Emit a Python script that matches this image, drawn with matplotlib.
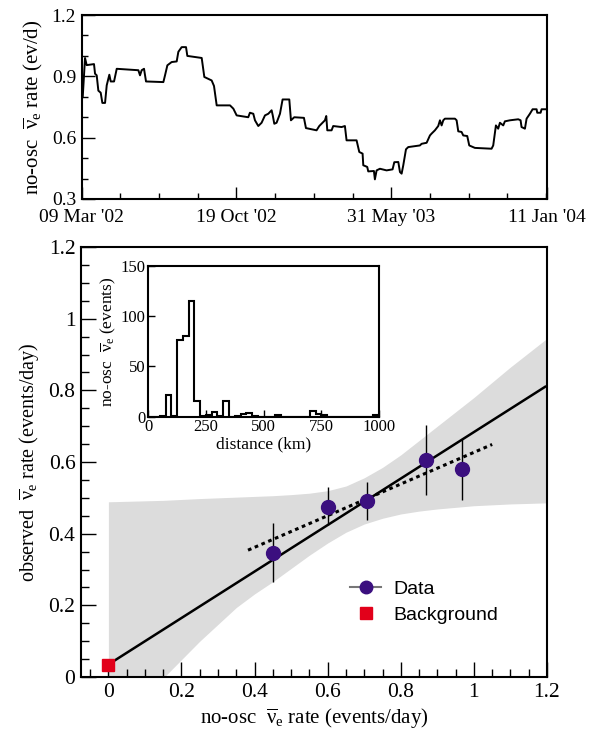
import numpy as np
import matplotlib
matplotlib.use("Agg")
import matplotlib.pyplot as plt
from matplotlib.ticker import MultipleLocator, FixedLocator, FuncFormatter
from matplotlib.lines import Line2D

plt.rcParams['font.family'] = ['Liberation Serif', 'DejaVu Serif']
plt.rcParams['mathtext.fontset'] = 'custom'
plt.rcParams['mathtext.rm'] = 'Liberation Serif'
plt.rcParams['mathtext.it'] = 'Liberation Serif:italic'

# --- top panel: no-osc rate vs time (days since 09 Mar '02) ---
days = [0, 1.5, 4.8, 7.2, 17.8, 19.3, 21.7, 24.1, 27.5, 29.9, 33.8, 36.2, 40, 42, 46.8,
        50.7, 82, 84.4, 86.8, 90.2, 93.1, 118.2, 120.6, 124, 130.2, 137.5, 139.9, 144.7,
        151, 152.9, 173.7, 177.5, 188.1, 191.5, 195.4, 214.7, 219.5, 224.3, 241.1, 243.5,
        248.4, 250.8, 255.6, 260.4, 265.3, 270.1, 274.9, 276.5, 278.8, 282.1, 287, 290.8,
        300.5, 302.9, 307.7, 321.7, 324.6, 340, 343.9, 352.1, 354, 355.5, 361.7, 364.1,
        376.2, 381, 383.4, 397.9, 401.8, 406.6, 407.6, 413.3, 414.8, 423, 424.4, 426.9,
        431.7, 441.3, 450, 452.5, 458.3, 460.7, 463.1, 465.5, 469.4, 472.7, 489.6, 492,
        499.3, 504.1, 506.5, 511.3, 516.1, 518.6, 521, 523.4, 525.8, 540.3, 542.7, 545.1,
        549.9, 552.3, 558.1, 561, 569.2, 593.3, 595.7, 599.6, 602.9, 605.4, 610.2, 612.6,
        619.9, 631.9, 635.3, 636.7, 641.6, 644, 648.8, 652.7, 658.5, 659.4, 664.3, 665.7, 673]
rate = [0.79, 0.80, 0.99, 0.955, 0.96, 0.913, 0.905, 0.83, 0.82, 0.77, 0.77, 0.856, 0.908,
        0.875, 0.875, 0.937, 0.93, 0.905, 0.93, 0.937, 0.875, 0.872, 0.905, 0.954, 0.97,
        0.973, 1.02, 1.043, 1.043, 1.0, 0.99, 0.897, 0.88, 0.853, 0.758, 0.758, 0.742, 0.709,
        0.70, 0.722, 0.717, 0.685, 0.657, 0.673, 0.709, 0.717, 0.734, 0.71, 0.668, 0.673,
        0.717, 0.787, 0.787, 0.685, 0.70, 0.697, 0.647, 0.636, 0.657, 0.685, 0.706, 0.636,
        0.636, 0.657, 0.652, 0.657, 0.587, 0.587, 0.53, 0.522, 0.465, 0.457, 0.435, 0.437,
        0.396, 0.44, 0.448, 0.44, 0.445, 0.48, 0.481, 0.432, 0.424, 0.465, 0.543, 0.554,
        0.562, 0.57, 0.575, 0.611, 0.62, 0.636, 0.657, 0.685, 0.66, 0.685, 0.693, 0.693,
        0.685, 0.631, 0.628, 0.611, 0.608, 0.562, 0.55, 0.546, 0.562, 0.66, 0.644, 0.673,
        0.66, 0.68, 0.685, 0.69, 0.685, 0.652, 0.644, 0.693, 0.717, 0.739, 0.739, 0.722,
        0.722, 0.739, 0.739]
date_ticks = [0, 224, 448, 673]
date_labels = ["09 Mar '02", "19 Oct '02", "31 May '03", "11 Jan '04"]

# --- bottom panel ---
noosc = [0.45, 0.60, 0.707, 0.868, 0.967]
observed = [0.347, 0.475, 0.491, 0.606, 0.581]
err_lo = [0.083, 0.051, 0.052, 0.098, 0.088]
err_hi = [0.084, 0.055, 0.054, 0.098, 0.083]
bkg_x, bkg_y = [0.0], [0.034]

fit_x = [0.0, 1.195]
fit_y = [0.035, 0.81]
dot_x = [0.382, 1.05]
dot_y = [0.354, 0.649]

band_x = [0, 0.15, 0.25, 0.35, 0.4, 0.45, 0.5, 0.55, 0.6, 0.65, 0.7, 0.75, 0.8, 0.85,
          0.9, 1.0, 1.1, 1.2]
band_hi = [0.489, 0.493, 0.498, 0.502, 0.504, 0.506, 0.509, 0.513, 0.52, 0.533, 0.556,
           0.585, 0.62, 0.66, 0.70, 0.78, 0.865, 0.945]
band_lo = [-0.155, -0.003, 0.10, 0.194, 0.232, 0.266, 0.303, 0.34, 0.374, 0.404, 0.427,
           0.443, 0.455, 0.463, 0.469, 0.478, 0.483, 0.486]

# --- inset histogram (25 km bins) ---
hist_counts = [0, 0, 1, 22, 1, 76, 80, 115, 16, 1, 2, 5, 1, 16, 0, 1, 3, 4, 1, 0,
               0, 0, 2, 0, 0, 0, 0, 0, 6, 3, 2, 0, 0, 0, 0, 0, 0, 0, 0, 2]
hist_edges = np.arange(0, 1025, 25)

NUE = r"$\overline{\mathrm{\nu}}_{\mathrm{e}}$"

fig = plt.figure(figsize=(6.03, 7.30), dpi=100)


def style(ax, major_len=9, minor_len=4.5):
    for s in ax.spines.values():
        s.set_linewidth(1.5)
    ax.tick_params(which='both', direction='in', top=False, right=False, width=1.0)
    ax.tick_params(which='major', length=major_len, labelsize=14, pad=4)
    ax.tick_params(which='minor', length=minor_len)


fmt = FuncFormatter(lambda v, p: "%g" % round(v, 3))

# top panel
ax1 = fig.add_axes([0.1355, 0.7274, 0.771, 0.252])
ax1.plot(days, rate, color='black', lw=1.4)
ax1.set_xlim(0, 673)
ax1.set_ylim(0.3, 1.2)
ax1.xaxis.set_major_locator(FixedLocator(date_ticks))
ax1.set_xticklabels(date_labels)
ax1.xaxis.set_minor_locator(FixedLocator(np.arange(56, 673, 56)))
ax1.yaxis.set_major_locator(MultipleLocator(0.3))
ax1.yaxis.set_minor_locator(MultipleLocator(0.1))
ax1.yaxis.set_major_formatter(fmt)
style(ax1)
ax1.tick_params(axis='x', which='major', pad=7)
ax1.set_ylabel("no-osc  " + NUE + " rate (ev/d)", fontsize=15, labelpad=5)

# bottom panel
ax2 = fig.add_axes([0.1343, 0.0726, 0.7728, 0.589])
ax2.fill_between(band_x, band_lo, band_hi, color='#dcdcdc', lw=0, zorder=1)
ax2.plot(fit_x, fit_y, color='black', lw=1.8, zorder=3)
ax2.plot(dot_x, dot_y, color='black', lw=2.2, ls=(0, (1.2, 1.2)), zorder=3)
ax2.errorbar(noosc, observed, yerr=[err_lo, err_hi], fmt='o', color='#3b0f7f',
             ecolor='black', elinewidth=1.0, ms=10, capsize=0, zorder=4)
ax2.plot(bkg_x, bkg_y, 's', color='#e2001a', ms=9, zorder=5, clip_on=False)
ax2.set_xlim(-0.075, 1.2)
ax2.set_ylim(0, 1.2)
ax2.xaxis.set_major_locator(MultipleLocator(0.2))
ax2.xaxis.set_minor_locator(MultipleLocator(0.05))
ax2.yaxis.set_major_locator(MultipleLocator(0.2))
ax2.yaxis.set_minor_locator(MultipleLocator(0.05))
ax2.xaxis.set_major_formatter(fmt)
ax2.yaxis.set_major_formatter(fmt)
style(ax2, major_len=11, minor_len=5.5)
ax2.tick_params(which='major', labelsize=15.5)
ax2.set_xlabel("no-osc  " + NUE + " rate (events/day)", fontsize=15, labelpad=4)
ax2.set_ylabel("observed  " + NUE + " rate (events/day)", fontsize=14.5, labelpad=5)

handles = [Line2D([], [], color='#777777', lw=1.5, marker='o', ms=9,
                  markerfacecolor='#3b0f7f', markeredgecolor='#3b0f7f'),
           Line2D([], [], color='#e2001a', lw=0, marker='s', ms=9)]
ax2.legend(handles, ["Data", "Background"], loc='upper left',
           bbox_to_anchor=(0.54, 0.266), frameon=False, handlelength=1.6,
           handletextpad=0.6, labelspacing=0.45,
           prop={'family': 'Liberation Sans', 'size': 14})

# inset
ax3 = fig.add_axes([0.2459, 0.4292, 0.3826, 0.2064])
ax3.stairs(hist_counts, hist_edges, color='black', lw=1.5)
ax3.set_xlim(0, 1000)
ax3.set_ylim(0, 150)
ax3.xaxis.set_major_locator(MultipleLocator(250))
ax3.yaxis.set_major_locator(MultipleLocator(50))
style(ax3, major_len=5, minor_len=3)
ax3.tick_params(which='major', labelsize=12, pad=2)
ax3.set_xlabel("distance (km)", fontsize=12.5, labelpad=1)
ax3.set_ylabel("no-osc  " + NUE + " (events)", fontsize=12.5, labelpad=2)

fig.savefig("out.png", dpi=100)
